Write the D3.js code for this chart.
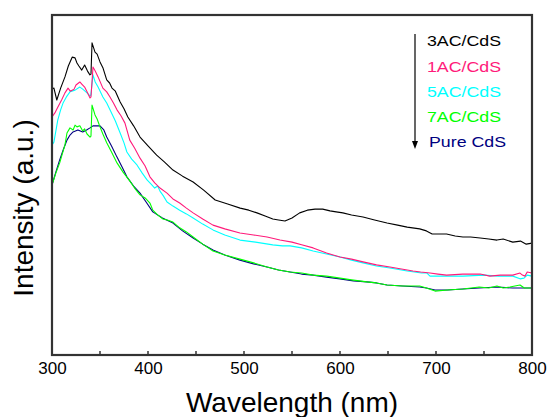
<!DOCTYPE html>
<html><head><meta charset="utf-8">
<script src="https://cdn.jsdelivr.net/npm/d3@7"></script>
<style>body{margin:0;background:#fff}svg{display:block}text{font-family:Arial,"Liberation Sans",sans-serif}</style>
</head><body><svg id="c" width="548" height="417"></svg>
<script>
const xTicks = [300, 400, 500, 600, 700, 800];
const seriesNames = ["3AC/CdS", "1AC/CdS", "5AC/CdS", "7AC/CdS", "Pure CdS"];
const seriesColors = ["#000000", "#ff1a7a", "#00ffff", "#00ff00", "#000080"];

const s3AC = [[300,78.2],[302,78.5],[305,75.0],[309,78.5],[313.5,81.8],[317,85.0],[321,87.6],[324,87.4],[326,85.9],[328,85.0],[331,83.8],[334,85.3],[337,83.5],[339.5,82.4],[340.6,82.6],[341.7,91.8],[344.8,89.1],[347,88.5],[350,86.2],[353,84.5],[357,80.9],[360,80.0],[362.5,78.5],[366,77.6],[371,74.4],[375,72.4],[379,70.0],[385,67.4],[391.7,64.1],[400,61.5],[409,58.8],[417,56.8],[426,54.4],[436,52.6],[447,50.9],[458,48.5],[470,45.6],[483,44.4],[496,43.2],[505,42.6],[513.5,41.8],[522,40.9],[530,40.0],[536,39.7],[542.7,39.4],[550,40.3],[558,41.8],[566,42.6],[574,42.9],[582,42.9],[589.6,42.4],[596,42.1],[603,41.8],[612,41.2],[624,40.6],[636,39.7],[649,38.8],[660,38.2],[670,37.6],[683,37.1],[690,36.5],[696,35.6],[704,35.6],[711,35.6],[720,35.0],[728,34.7],[736,34.7],[746,34.4],[755,34.1],[763.5,33.8],[770,34.1],[780,33.2],[788,33.5],[794,32.6],[800,32.9]];

const s1AC = [[300,70.0],[303,71.2],[306,72.9],[310,75.0],[313.5,77.1],[316.7,78.5],[319,77.6],[321,77.9],[323,78.2],[325,79.4],[329,80.3],[331,79.7],[334,78.8],[337,77.1],[339.6,75.6],[340.6,75.9],[342.7,84.7],[345,83.5],[348,81.8],[353,78.5],[357,77.4],[360.4,75.9],[364,74.1],[367.7,72.1],[372,70.3],[376,68.2],[378,66.2],[381,63.2],[386,60.9],[391.7,57.9],[397,55.6],[402,52.4],[407,50.6],[412.5,49.1],[419.8,47.6],[426,45.9],[433,44.7],[440,43.2],[447,41.8],[457,40.0],[467.7,38.2],[480,37.1],[495.8,35.9],[510,35.3],[524,34.7],[537.5,33.8],[550,33.2],[560,32.4],[572,31.5],[586,30.0],[600,28.8],[612,28.2],[624,27.4],[638,26.5],[652,25.9],[664,25.3],[676,24.7],[684,24.4],[693.75,24.1],[702,23.8],[711,23.5],[728,23.8],[746,23.8],[756,23.2],[767,23.5],[780,23.5],[787.5,24.1],[790,23.5],[792.7,23.2],[795,24.4],[800,24.1]];

const s5AC = [[300,61.8],[302,62.6],[306,69.1],[309,72.1],[311.5,74.1],[315,75.9],[318.75,77.4],[324,77.9],[329,78.8],[332,78.2],[336.5,77.1],[339.6,76.2],[340.5,76.5],[342.7,82.4],[345,80.3],[348,78.8],[353,75.9],[357,74.1],[360.4,72.1],[366,68.8],[371,65.3],[375,62.4],[378,59.7],[383,57.6],[388.5,55.9],[394,53.5],[399,51.5],[403,50.3],[407,49.1],[410,49.7],[412.5,48.2],[416,46.8],[419.8,45.0],[426,43.8],[433,42.6],[440,41.5],[447,40.3],[457,38.5],[467.7,36.8],[480,35.3],[495.8,33.8],[512,33.2],[530,32.4],[540,32.1],[548,32.1],[560,31.5],[572,30.6],[586,29.7],[600,28.8],[612,27.9],[624,27.1],[638,26.2],[652,25.6],[670,24.7],[685,24.1],[690.6,24.1],[693.75,23.2],[710,23.2],[728,23.2],[750,23.5],[765,23.2],[780,23.2],[787.5,22.4],[791.7,22.6],[795,23.5],[800,23.2]];

const s7AC = [[300,50.0],[304,53.5],[308,56.5],[313.5,61.8],[315.6,65.3],[318.75,66.8],[322,66.2],[324,67.6],[326,67.1],[329,67.4],[332,65.9],[334,66.5],[336.5,65.0],[339.6,64.1],[340.6,64.4],[341.7,73.5],[344.8,70.6],[347,69.4],[350,67.1],[353,65.0],[357,62.4],[362,59.7],[367.7,56.5],[374,53.8],[381,51.2],[386,49.1],[391.7,47.1],[397,46.2],[402,44.7],[405,42.6],[410,41.2],[415.6,40.0],[420,39.7],[426,39.1],[433,37.4],[440,36.2],[447,34.7],[457,32.6],[467.7,30.6],[480,29.4],[495.8,28.2],[510,27.1],[524,25.9],[536,25.0],[548,24.4],[560,24.1],[572,23.5],[586,23.2],[600,22.6],[612,22.1],[628,21.5],[638,21.2],[649,20.6],[665,20.3],[683,20.3],[690,19.7],[699,18.8],[712,19.1],[728,19.4],[745,20.0],[755,19.7],[763.5,20.3],[770,19.7],[777,20.0],[787.5,20.6],[792,19.7],[800,19.7]];

const sPure = [[300,50.0],[304,53.8],[308,57.4],[312,60.6],[315.6,63.2],[318.75,64.7],[321.9,65.6],[327,66.2],[332,65.6],[336,66.2],[339.6,66.8],[342.7,67.4],[350,67.4],[354,66.2],[357,64.1],[362,61.5],[367.7,58.2],[373,55.3],[378,52.4],[385,49.7],[391.7,47.6],[398,45.0],[405,42.1],[415,40.3],[426,38.8],[436,36.5],[447,34.4],[457,32.6],[467.7,30.9],[480,29.4],[495.8,27.9],[510,26.8],[524,25.9],[536,25.0],[548,24.4],[560,23.8],[572,23.5],[586,22.9],[600,22.4],[614,21.8],[628,21.5],[638,21.2],[649,20.6],[665,20.3],[683,20.0],[690,19.7],[699,19.1],[712,19.1],[728,19.4],[745,19.7],[763.5,20.0],[780,19.7],[800,19.7]];

const allSeries = [s3AC, s1AC, s5AC, s7AC, sPure];

const svg = d3.select("#c");
const L = 52, R = 532, T = 15, B = 355;
const x = d3.scaleLinear().domain([300, 800]).range([L, R]);
const y = d3.scaleLinear().domain([0, 100]).range([B, T]);

const line = d3.line().x(d => x(d[0])).y(d => y(d[1]));

// draw series bottom to top so black is on top
const order = [4, 3, 2, 1, 0];
order.forEach(i => {
  svg.append("path").datum(allSeries[i])
    .attr("fill", "none").attr("stroke", seriesColors[i])
    .attr("stroke-width", 1.1).attr("stroke-linejoin", "round")
    .attr("d", line);
});

// bottom axis with minor ticks inward
const minor = d3.range(300, 801, 50);
svg.append("g").selectAll("line").data(minor).join("line")
  .attr("x1", d => x(d)).attr("x2", d => x(d))
  .attr("y1", B).attr("y2", B - 4)
  .attr("stroke", "#333").attr("stroke-width", 1.5);

const xAxis = d3.axisBottom(x).tickValues(xTicks).tickSize(0).tickPadding(6).tickFormat(d3.format("d"));
const gx = svg.append("g").attr("transform", `translate(0,${B})`).call(xAxis);
gx.select(".domain").remove();
gx.selectAll("text").attr("font-size", 17).attr("fill", "#000").attr("font-family", "Arial, 'Liberation Sans', sans-serif").attr("dy", "0.75em");

// frame
svg.append("rect").attr("x", L).attr("y", T).attr("width", R - L).attr("height", B - T)
  .attr("fill", "none").attr("stroke", "#333").attr("stroke-width", 2.2);

// axis titles
svg.append("text").attr("x", (L + R) / 2).attr("y", 412).attr("text-anchor", "middle")
  .attr("font-size", 28).attr("fill", "#000").text("Wavelength (nm)");
svg.append("text").attr("transform", "translate(33,208) rotate(-90)").attr("text-anchor", "middle")
  .attr("font-size", 28).attr("fill", "#000").text("Intensity (a.u.)");

// legend
const lg = svg.append("g");
const legY = [45.7, 71.5, 96.7, 122, 146.5];
const legX = [427, 427, 427, 427, 429];
const legW = [74, 74, 74, 74, 77];
seriesNames.forEach((n, i) => {
  lg.append("text").attr("x", legX[i]).attr("y", legY[i])
    .attr("font-size", 15.5).attr("fill", seriesColors[i])
    .attr("textLength", legW[i]).attr("lengthAdjust", "spacingAndGlyphs").text(n);
});
lg.append("line").attr("x1", 415).attr("x2", 415).attr("y1", 34).attr("y2", 143)
  .attr("stroke", "#000").attr("stroke-width", 1.2);
lg.append("path").attr("d", "M412,141 L418,141 L415,149 Z").attr("fill", "#000");
</script></body></html>
